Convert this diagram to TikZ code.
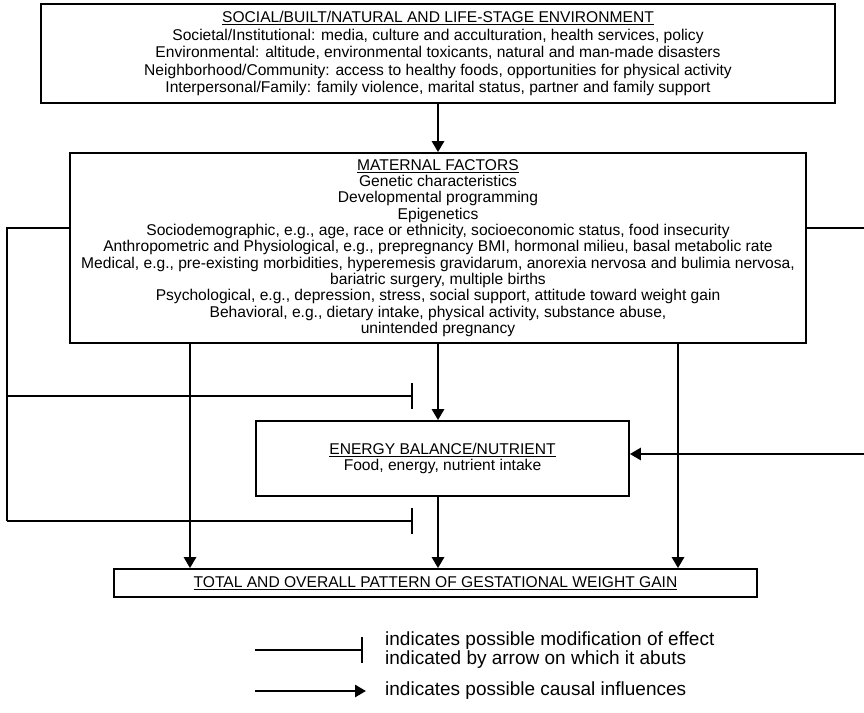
\documentclass[tikz,border=0pt]{standalone}
\usepackage{fontspec}
\setmainfont{Liberation Sans}
\usetikzlibrary{arrows.meta, positioning}

\tikzstyle{box} = [
    rectangle,
    draw=black,
    line width=1.7pt,
    align=center,
    inner sep=0pt
]
\tikzstyle{arrow} = [line width=2.6pt, -{Triangle[length=11pt,width=12pt]}]
\tikzstyle{modline} = [line width=1.8pt]
\tikzstyle{modend} = [modline, -{Bar[width=26pt,line width=1.8pt]}]
\tikzstyle{legend} = [align=left, anchor=west, inner sep=0pt,
    font=\fontsize{19}{17.3}\selectfont]

\begin{document}
\begin{tikzpicture}[x=1pt, y=-1pt, font=\fontsize{15.6}{16.3}\selectfont]
\useasboundingbox (0,0) rectangle (864,712);

\node (env) [box, minimum width=794pt, minimum height=99pt,
    font=\fontsize{15.6}{17.5}\selectfont] at (438,53.5)
{\underline{SOCIAL/BUILT/NATURAL AND LIFE-STAGE ENVIRONMENT}\\
Societal/Institutional: media, culture and acculturation, health services, policy\\
Environmental: altitude, environmental toxicants, natural and man-made disasters\\
Neighborhood/Community: access to healthy foods, opportunities for physical activity\\
Interpersonal/Family: family violence, marital status, partner and family support};

\node (mat) [box, minimum width=736pt, minimum height=190pt] at (438,248)
{\underline{MATERNAL FACTORS}\\
Genetic characteristics\\
Developmental programming\\
Epigenetics\\
Sociodemographic, e.g., age, race or ethnicity, socioeconomic status, food insecurity\\
Anthropometric and Physiological, e.g., prepregnancy BMI, hormonal milieu, basal metabolic rate\\
Medical, e.g., pre-existing morbidities, hyperemesis gravidarum, anorexia nervosa and bulimia nervosa,\\
bariatric surgery, multiple births\\
Psychological, e.g., depression, stress, social support, attitude toward weight gain\\
Behavioral, e.g., dietary intake, physical activity, substance abuse,\\
unintended pregnancy};

\node (energy) [box, minimum width=373pt, minimum height=75pt] at (442.5,458.5)
{\underline{ENERGY BALANCE/NUTRIENT}\\
Food, energy, nutrient intake};

\node (total) [box, minimum width=643pt, minimum height=28pt] at (435.5,583)
{\underline{TOTAL AND OVERALL PATTERN OF GESTATIONAL WEIGHT GAIN}};

% connector points
\coordinate (lft) at (190,0);
\coordinate (rgt) at (678,0);
\coordinate (modL) at (7,228);
\coordinate (modR) at (867,228);
\coordinate (inR) at (867,454);
\coordinate (barA) at (413,396);
\coordinate (barB) at (413,521);

\draw [arrow] (env.south -| mat.north) -- (mat.north);
\draw [arrow] (mat.south) -- (mat.south |- energy.north);
\draw [arrow] (mat.south -| lft) -- (lft |- total.north);
\draw [arrow] (mat.south -| rgt) -- (rgt |- total.north);
\draw [arrow] (energy.south -| mat.south) -- (mat.south |- total.north);

\draw [modline] (mat.west |- modL) -- (modL) -- (modL |- barB);
\draw [modend] (modL |- barA) -- (barA);
\draw [modend] (modL |- barB) -- (barB);
\draw [modline] (mat.east |- modR) -- (modR) -- (inR);
\draw [arrow] (inR) -- (energy.east |- inR);

% legend
\coordinate (legT) at (255,650);
\coordinate (legTend) at (363,650);
\coordinate (legA) at (255,691);
\coordinate (legAend) at (366,691);
\draw [modend] (legT) -- (legTend);
\draw [arrow] (legA) -- (legAend);
\node (legTtext) [legend] at (385,650)
{indicates possible modification of effect\\
indicated by arrow on which it abuts};
\node (legAtext) [legend] at (385,691)
{indicates possible causal influences};

\end{tikzpicture}
\end{document}
